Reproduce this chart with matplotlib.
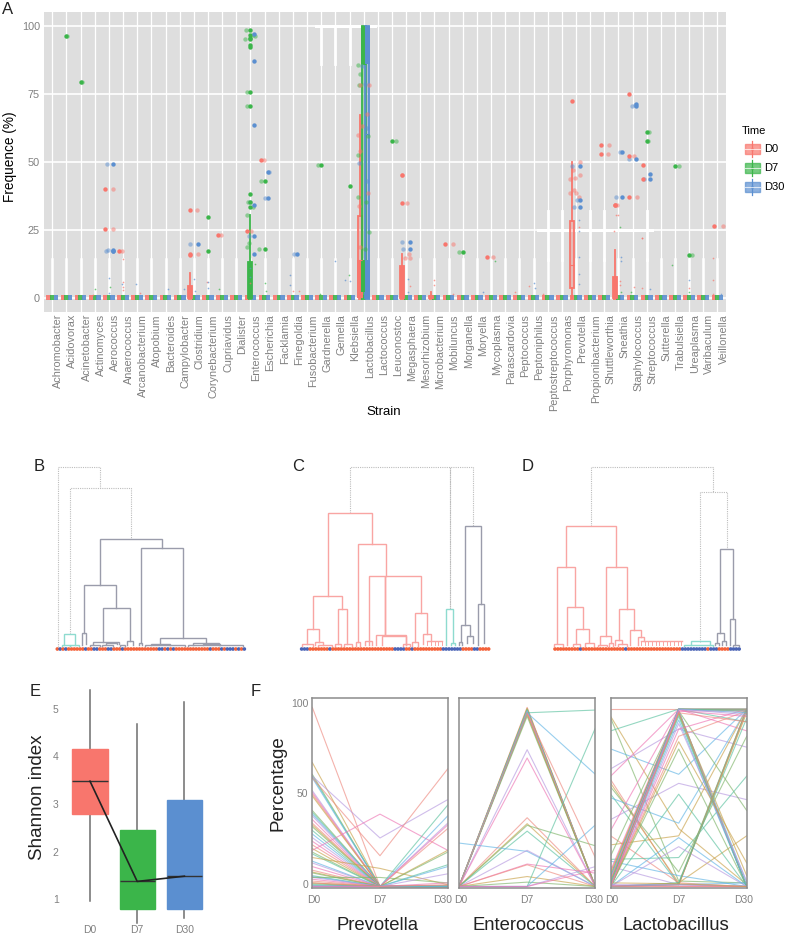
import matplotlib
matplotlib.use('Agg')
import matplotlib.pyplot as plt
from matplotlib.patches import Rectangle

plt.rcParams['font.family'] = ['Liberation Sans', 'DejaVu Sans']

W, H = 787, 943
RED, GREEN, BLUE = '#F8766D', '#3BB54A', '#5B8FD0'
TIME_COLORS = {'D0': RED, 'D7': GREEN, 'D30': BLUE}
TIME_DODGE = {'D0': -0.26, 'D7': 0.0, 'D30': 0.26}
GREY = '#808080'

strains = ['Achromobacter', 'Acidovorax', 'Acinetobacter', 'Actinomyces', 'Aerococcus', 'Anaerococcus',
           'Arcanobacterium', 'Atopobium', 'Bacteroides', 'Campylobacter', 'Clostridium', 'Corynebacterium',
           'Cupriavidus', 'Dialister', 'Enterococcus', 'Escherichia', 'Facklamia', 'Finegoldia', 'Fusobacterium',
           'Gardnerella', 'Gemella', 'Klebsiella', 'Lactobacillus', 'Lactococcus', 'Leuconostoc', 'Megasphaera',
           'Mesorhizobium', 'Microbacterium', 'Mobiluncus', 'Morganella', 'Moryella', 'Mycoplasma', 'Parascardovia',
           'Peptococcus', 'Peptoniphilus', 'Peptostreptococcus', 'Porphyromonas', 'Prevotella', 'Propionibacterium',
           'Shuttleworthia', 'Sneathia', 'Staphylococcus', 'Streptococcus', 'Sutterella', 'Trabulsiella',
           'Ureaplasma', 'Varibaculum', 'Veillonella']

# strain, time: whisker low, q1, median, q3, whisker high (anything not listed sits at zero)
box_stats = {
    ('Clostridium', 'D0'): (0, 0, 0.5, 4.3, 9.2),
    ('Enterococcus', 'D7'): (0, 0, 0.5, 13, 30.5),
    ('Lactobacillus', 'D0'): (0, 2, 14, 30, 67),
    ('Lactobacillus', 'D7'): (0, 3, 86, 100, 100),
    ('Lactobacillus', 'D30'): (0, 0, 60, 100, 100),
    ('Megasphaera', 'D0'): (0, 0, 0.5, 11.5, 16),
    ('Prevotella', 'D0'): (0, 3.5, 12, 28, 50),
    ('Sneathia', 'D0'): (0, 0, 0.5, 7.5, 17.6),
    ('Microbacterium', 'D0'): (0, 0, 0, 0.5, 2),
}

# parts of the tall boxes that read as solid colour: strain, time, from, to
solid_parts = [('Lactobacillus', 'D0', 0, 14), ('Lactobacillus', 'D7', 2, 14), ('Lactobacillus', 'D7', 86, 100),
               ('Lactobacillus', 'D30', 0, 14), ('Lactobacillus', 'D30', 86, 100)]

# outliers drawn at the dodged box position
outliers = [
    ('Acidovorax', 'D7', [96]), ('Acinetobacter', 'D7', [79.2]),
    ('Aerococcus', 'D0', [40, 25.2]), ('Aerococcus', 'D30', [49, 17.3, 17.6, 17]),
    ('Anaerococcus', 'D0', [17.3]), ('Clostridium', 'D0', [32.2, 16, 15.6]), ('Clostridium', 'D30', [19.7]),
    ('Corynebacterium', 'D7', [29.7, 17]), ('Cupriavidus', 'D0', [22.9]),
    ('Enterococcus', 'D0', [24.3]),
    ('Enterococcus', 'D7', [98.5, 96.5, 95.5, 95, 93, 92.3, 75.5, 70.5, 38, 35, 33.3]),
    ('Enterococcus', 'D30', [97, 87, 63.5, 34, 22.5, 16]),
    ('Escherichia', 'D0', [50.6]), ('Escherichia', 'D7', [42.8, 17.9]), ('Escherichia', 'D30', [46.3, 36.6]),
    ('Finegoldia', 'D30', [16.2]), ('Gardnerella', 'D7', [48.7]), ('Klebsiella', 'D7', [41]),
    ('Leuconostoc', 'D7', [57.5]), ('Megasphaera', 'D0', [45, 34.7]), ('Megasphaera', 'D30', [20.4, 17.9]),
    ('Mobiluncus', 'D0', [19.7]), ('Morganella', 'D7', [16.8]), ('Mycoplasma', 'D0', [14.8]),
    ('Prevotella', 'D0', [72.4]), ('Prevotella', 'D30', [48.3, 35.9, 33.2]),
    ('Shuttleworthia', 'D0', [56, 52.9]), ('Sneathia', 'D0', [34, 34.1]), ('Sneathia', 'D30', [53.7, 37]),
    ('Staphylococcus', 'D0', [75, 52, 37]), ('Staphylococcus', 'D30', [70.5, 71, 51]),
    ('Streptococcus', 'D0', [48.9, 43.6]), ('Streptococcus', 'D7', [61, 57.5]), ('Streptococcus', 'D30', [45.3, 43.7]),
    ('Trabulsiella', 'D7', [48.3]), ('Ureaplasma', 'D7', [15.7]), ('Veillonella', 'D0', [26.3]),
]

# jittered samples: strain, time, value, jitter (fraction of a category)
jitter_points = [
    ('Acidovorax', 'D7', 96, 0.05), ('Acinetobacter', 'D7', 79.2, 0.1),
    ('Aerococcus', 'D0', 40, 0.31), ('Aerococcus', 'D0', 25.2, 0.31), ('Aerococcus', 'D30', 49, -0.12),
    ('Aerococcus', 'D30', 17.3, -0.21), ('Aerococcus', 'D30', 17.5, -0.05),
    ('Anaerococcus', 'D0', 17.3, -0.09), ('Clostridium', 'D0', 32.2, 0.2), ('Clostridium', 'D0', 16, 0.3),
    ('Clostridium', 'D30', 19.7, -0.3), ('Cupriavidus', 'D0', 22.9, -0.1),
    ('Enterococcus', 'D7', 98.5, -0.33), ('Enterococcus', 'D7', 95, -0.35), ('Enterococcus', 'D7', 96, 0.35),
    ('Enterococcus', 'D7', 75.5, -0.24), ('Enterococcus', 'D7', 70.5, -0.24), ('Enterococcus', 'D7', 35, -0.14),
    ('Enterococcus', 'D7', 30.5, -0.26), ('Enterococcus', 'D7', 18.5, -0.26), ('Enterococcus', 'D7', 20, -0.07),
    ('Enterococcus', 'D7', 33.3, 0.21), ('Enterococcus', 'D7', 96.6, 0.2),
    ('Enterococcus', 'D30', 22.5, -0.12), ('Enterococcus', 'D30', 35, -0.02), ('Enterococcus', 'D0', 24.3, 0.02),
    ('Escherichia', 'D0', 50.6, -0.05), ('Escherichia', 'D7', 42.8, -0.24), ('Escherichia', 'D7', 17.9, -0.4),
    ('Escherichia', 'D30', 36.6, 0.02), ('Escherichia', 'D30', 46.3, 0.33),
    ('Finegoldia', 'D30', 16.2, 0.07), ('Gardnerella', 'D7', 48.7, -0.21),
    ('Lactobacillus', 'D7', 85.5, -0.38), ('Lactobacillus', 'D7', 82.3, -0.26), ('Lactobacillus', 'D7', 78, -0.3),
    ('Lactobacillus', 'D7', 52.5, -0.4), ('Lactobacillus', 'D7', 37, -0.4), ('Lactobacillus', 'D7', 35, 0.16),
    ('Lactobacillus', 'D7', 24, 0.35), ('Lactobacillus', 'D7', 18, 0.07), ('Lactobacillus', 'D7', 59.5, 0.3),
    ('Lactobacillus', 'D0', 78.2, -0.26), ('Lactobacillus', 'D0', 78, 0.4), ('Lactobacillus', 'D0', 59.8, -0.4),
    ('Lactobacillus', 'D0', 53.8, -0.26), ('Lactobacillus', 'D0', 33.5, -0.35), ('Lactobacillus', 'D0', 38.5, 0.28),
    ('Lactobacillus', 'D0', 18.5, -0.26), ('Lactobacillus', 'D0', 67.5, 0.26), ('Lactobacillus', 'D0', 63, -0.1),
    ('Lactobacillus', 'D30', 85, -0.1), ('Lactobacillus', 'D30', 49.5, -0.35), ('Lactobacillus', 'D30', 62.5, 0.24),
    ('Lactobacillus', 'D30', 42.8, 0.24), ('Lactobacillus', 'D30', 78.5, 0.1),
    ('Leuconostoc', 'D7', 57.5, 0.28), ('Megasphaera', 'D0', 45, -0.3), ('Megasphaera', 'D0', 34.7, 0.07),
    ('Megasphaera', 'D30', 20.4, -0.26), ('Megasphaera', 'D30', 17.9, -0.24), ('Megasphaera', 'D0', 14.7, -0.07),
    ('Megasphaera', 'D0', 16, 0.2), ('Megasphaera', 'D0', 14.5, 0.3),
    ('Mobiluncus', 'D0', 19.7, 0.28), ('Morganella', 'D7', 16.8, -0.24), ('Mycoplasma', 'D0', 14.8, 0.12),
    ('Prevotella', 'D0', 50, 0.26), ('Prevotella', 'D0', 45, 0.28), ('Prevotella', 'D0', 43.5, -0.4),
    ('Prevotella', 'D0', 38.5, -0.4), ('Prevotella', 'D0', 39.6, -0.14), ('Prevotella', 'D0', 38.5, 0),
    ('Prevotella', 'D0', 37, 0.24), ('Prevotella', 'D0', 47, -0.19), ('Prevotella', 'D0', 44, -0.05),
    ('Prevotella', 'D30', 48.3, -0.26), ('Prevotella', 'D30', 33.2, -0.12), ('Prevotella', 'D30', 35.9, 0.1),
    ('Shuttleworthia', 'D0', 56, 0.31), ('Shuttleworthia', 'D0', 52.9, 0.24), ('Sneathia', 'D0', 34, -0.07),
    ('Sneathia', 'D30', 53.7, 0.12), ('Sneathia', 'D30', 37, -0.14), ('Staphylococcus', 'D0', 52, 0.12),
    ('Staphylococcus', 'D0', 37, 0.31), ('Staphylococcus', 'D30', 70.5, -0.07), ('Staphylococcus', 'D30', 70.8, 0.16),
    ('Staphylococcus', 'D30', 51, -0.26), ('Streptococcus', 'D7', 61, 0.19), ('Streptococcus', 'D7', 57.5, 0.12),
    ('Streptococcus', 'D30', 43.7, -0.19), ('Trabulsiella', 'D7', 48.3, 0.26), ('Ureaplasma', 'D7', 15.7, 0.21),
    ('Veillonella', 'D0', 26.3, 0.38),
]

# small specks near the bottom: strain, time, value, jitter
specks = [
    ('Actinomyces', 'D7', 3, 0.0), ('Actinomyces', 'D0', 0.8, -0.1), ('Aerococcus', 'D30', 7.3, 0.02),
    ('Aerococcus', 'D7', 4, 0.05), ('Aerococcus', 'D30', 1.6, 0.0), ('Anaerococcus', 'D0', 14.3, 0.0),
    ('Anaerococcus', 'D0', 5.6, 0.0), ('Anaerococcus', 'D0', 4, 0.0), ('Anaerococcus', 'D0', 2.7, 0.0),
    ('Anaerococcus', 'D30', 5, -0.1), ('Arcanobacterium', 'D30', 5, -0.1), ('Arcanobacterium', 'D0', 1.8, 0.2),
    ('Bacteroides', 'D30', 3, 0.2), ('Campylobacter', 'D30', 3, 0.3), ('Clostridium', 'D30', 7, 0.0),
    ('Clostridium', 'D30', 2.5, 0.1), ('Corynebacterium', 'D0', 5.6, -0.1), ('Corynebacterium', 'D30', 5.6, 0.0),
    ('Corynebacterium', 'D30', 3.5, 0.0), ('Cupriavidus', 'D7', 3, -0.2), ('Enterococcus', 'D30', 11, 0.0),
    ('Enterococcus', 'D30', 7.5, 0.0), ('Enterococcus', 'D7', 12.5, 0.35), ('Enterococcus', 'D0', 5.2, -0.05),
    ('Escherichia', 'D7', 5.3, 0.0), ('Escherichia', 'D7', 2.5, 0.1), ('Finegoldia', 'D30', 8.4, -0.2),
    ('Finegoldia', 'D30', 4.6, -0.2), ('Finegoldia', 'D0', 2.5, 0.0), ('Finegoldia', 'D0', 2.5, 0.4),
    ('Gardnerella', 'D7', 1.4, -0.1), ('Gemella', 'D30', 13.4, 0.0), ('Klebsiella', 'D7', 8.3, -0.05),
    ('Klebsiella', 'D30', 6.3, -0.3), ('Klebsiella', 'D30', 6.2, 0.0), ('Megasphaera', 'D30', 7, 0.1),
    ('Megasphaera', 'D0', 4.2, 0.3), ('Megasphaera', 'D30', 2, 0.1), ('Microbacterium', 'D0', 6.3, 0.0),
    ('Microbacterium', 'D0', 4.7, 0.0), ('Mobiluncus', 'D0', 1.5, 0.3), ('Mycoplasma', 'D7', 13.5, 0.3),
    ('Moryella', 'D30', 2, 0.4), ('Peptococcus', 'D0', 2, -0.3), ('Peptoniphilus', 'D30', 5.3, 0.0),
    ('Peptoniphilus', 'D0', 4.3, -0.3), ('Peptoniphilus', 'D30', 3.7, 0.1), ('Peptostreptococcus', 'D0', 1.5, -0.3),
    ('Prevotella', 'D30', 28.5, 0.2), ('Prevotella', 'D30', 24.5, 0.2), ('Prevotella', 'D30', 14.8, 0.2),
    ('Prevotella', 'D30', 8.5, 0.2), ('Prevotella', 'D30', 5, 0.2), ('Prevotella', 'D0', 26, 0.2),
    ('Sneathia', 'D0', 30.5, -0.2), ('Sneathia', 'D0', 30.5, 0.0), ('Sneathia', 'D7', 26, 0.1),
    ('Sneathia', 'D0', 24.5, -0.3), ('Sneathia', 'D0', 6, 0.1), ('Sneathia', 'D0', 4.5, 0.1),
    ('Sneathia', 'D30', 15, 0.2), ('Sneathia', 'D30', 13.5, 0.2), ('Sneathia', 'D7', 2, 0.15),
    ('Staphylococcus', 'D0', 22, 0.7), ('Staphylococcus', 'D7', 2, -0.1), ('Staphylococcus', 'D0', 3.8, 0.1),
    ('Streptococcus', 'D0', 22, -0.3), ('Streptococcus', 'D0', 3.7, -0.3), ('Streptococcus', 'D30', 3.2, 0.2),
    ('Trabulsiella', 'D7', 11.8, -0.2), ('Ureaplasma', 'D30', 6.5, 0.0), ('Ureaplasma', 'D0', 3.7, 0.0),
    ('Ureaplasma', 'D7', 2, 0.0), ('Varibaculum', 'D0', 14.5, 0.7), ('Varibaculum', 'D0', 6.4, 0.7),
    ('Varibaculum', 'D0', 1.5, 0.7), ('Veillonella', 'D30', 1.5, 0.25),
]

# dendrogram brackets in tree units: left x, right x, top, base left, base right
tree_bc_dotted = [(115, 241, 50, 590, 115), (149, 334, 115, 552, 266),
                  (990, 1360, 50, 190, 228), (1290, 1290, 50, 478, 478)]
tree_bc_teal = [(131, 166, 552, 585, 585), (125, 150, 585, 587, 587), (150, 176, 585, 587, 587),
                (1279, 1299, 478, 585, 578), (1292, 1305, 578, 585, 585)]
tree_bc_pink = [
    (923, 1056, 190, 438, 283), (880, 967, 438, 538, 478), (862, 898, 538, 583, 575), (953, 980, 478, 581, 581),
    (1014, 1098, 283, 577, 379), (1046, 1204, 379, 585, 489), (1095, 1095, 379, 556, 556),
    (1068, 1158, 556, 585, 585), (1085, 1158, 559, 585, 585), (1186, 1222, 489, 575, 551),
    (1210, 1232, 551, 583, 574), (845, 878, 583, 587, 587), (885, 910, 576, 585, 585), (895, 935, 584, 587, 587),
    (945, 962, 581, 587, 587), (972, 996, 581, 587, 587), (1007, 1020, 577, 587, 587), (1036, 1056, 572, 585, 585),
    (1175, 1195, 575, 587, 587), (1150, 1170, 582, 587, 587),
]
tree_c_comb = [1222, 1267]
tree_bc_grey = [
    (241, 426, 266, 404, 294), (191, 289, 404, 548, 473), (248, 331, 473, 575, 574), (362, 490, 294, 580, 564),
    (185, 198, 548, 585, 582), (421, 558, 564, 580, 580), (218, 297, 575, 582, 582), (258, 290, 578, 582, 582),
    (322, 338, 574, 585, 585), (358, 367, 580, 586, 586), (392, 450, 582, 586, 586), (520, 597, 580, 586, 586),
    (210, 240, 585, 587, 587), (300, 315, 585, 587, 587), (245, 280, 585, 587, 587), (375, 495, 585, 587, 587),
    (505, 668, 585, 587, 587), (550, 600, 582, 586, 586),
    (1335, 1384, 228, 525, 461), (1322, 1350, 525, 575, 559), (1340, 1358, 559, 580, 580),
    (1375, 1392, 461, 585, 580), (1318, 1327, 575, 585, 585),
]
tree_d_dotted = [(574, 940, 50, 229, 127), (901, 980, 127, 575, 296)]
tree_d_pink = [
    (498, 649, 229, 350, 350), (471, 526, 350, 580, 470), (502, 549, 470, 585, 538), (528, 568, 538, 582, 577),
    (617, 680, 350, 559, 478), (601, 632, 559, 585, 580), (656, 703, 478, 571, 541), (645, 667, 571, 585, 583),
    (691, 723, 541, 585, 562), (714, 733, 562, 585, 573), (463, 490, 582, 587, 587), (518, 540, 583, 587, 587),
    (555, 582, 578, 587, 587), (595, 620, 585, 587, 587), (628, 638, 580, 587, 587), (655, 680, 583, 587, 587),
]
tree_d_comb = [723, 845]
tree_d_teal = [(874, 929, 574, 585, 585), (852, 940, 584, 587, 587)]
tree_d_grey = [(961, 999, 296, 548, 508), (952, 971, 548, 578, 572), (946, 956, 578, 586, 586),
               (965, 978, 572, 586, 586), (991, 1006, 508, 585, 584), (999, 1018, 585, 587, 587)]

# leaves that are blue, counted from the left of each tree
leaves_b = [1, 3, 10, 13, 14, 18, 19, 23, 36, 37, 39, 41, 54, 58, 60, 61, 62, 64, 66]
leaves_c = [0, 1, 2, 10, 33, 34, 35, 36, 39, 50, 51, 52, 53, 54, 55, 56, 61, 62]
leaves_d = [9, 25, 45, 46, 47, 48, 49, 50, 51, 52, 53, 55, 56, 57, 62, 63, 64, 65]

# Shannon index: whisker low, q1, median, q3, whisker high
shannon_times = ['D0', 'D7', 'D30']
shannon_stats = [(0.96, 2.8, 3.48, 4.16, 5.41), (0.49, 0.79, 1.37, 2.45, 4.69), (0.59, 0.79, 1.48, 3.08, 5.15)]

# per-sample percentages at D0, D7, D30
prevotella_lines = [(v, 0, 0) for v in [99, 68.5, 62, 61, 60, 53, 52, 51, 50, 42, 41, 40, 39, 37, 35, 34, 33, 31, 29, 27,
                                         25, 23, 21, 19, 18, 14, 13, 11, 9, 8, 7.5, 6, 5.5, 5, 4, 3, 2, 1.5, 1, 0.5]]
prevotella_lines += [(61, 26.8, 48), (20, 40, 20), (60, 17, 65), (16, 10, 1), (5, 5, 2), (0, 0, 45), (0, 0, 39), (0, 0, 35),
                     (0, 0, 34), (0, 0, 32), (0, 0, 20), (0, 0, 19), (0, 0, 12), (0, 0, 11), (0, 0, 7), (0, 0, 2), (2, 0, 1)]
enterococcus_lines = [(0, v, 0) for v in [99, 98.5, 98, 97.5, 97, 96.5, 96, 95.5, 95, 94]]
enterococcus_lines += [(0, 96, 97.5), (0, 96, 62), (0, 75.6, 0), (0, 71, 0), (0, 38, 0), (0, 34.7, 0), (0, 33.8, 22.5),
                       (0, 30.6, 0), (24, 19.4, 0), (0, 20, 0), (0, 12.4, 7.4), (0, 12, 0), (0, 5.5, 0), (0, 2.4, 0),
                       (0, 0, 87.5), (0, 0, 34), (0, 0, 11), (0, 0, 9), (0, 96, 16)]
lactobacillus_lines = [
    (98, 98, 98), (94, 32, 1), (93, 3, 2), (86, 98, 91), (76, 62, 98), (65, 87, 77), (61, 98, 98), (59, 1, 0),
    (57, 2, 28), (55, 8, 83), (51, 1, 98), (49, 35, 98), (37, 57, 48), (31, 98, 86), (28, 2, 0), (23, 28, 98),
    (17, 97, 42), (15, 16, 61), (14, 6, 0), (11, 1, 0), (9, 98, 98), (8, 97, 0), (7, 98, 97), (6, 97, 0), (5.5, 98, 98),
    (5, 97, 2), (4.5, 97, 0), (4, 97, 97), (3.5, 96, 0), (3, 96, 6), (2.5, 95, 0), (2, 94, 0), (1.5, 92, 0),
    (0, 90, 3), (0, 87, 98), (0, 83, 97), (0, 80, 13), (0, 76, 0), (0, 51, 0), (0, 27, 0), (0, 22, 0), (0, 1, 98),
    (0, 1, 97), (0, 1, 96), (0, 2, 98), (0, 2, 93), (0, 1, 2), (1, 1, 0), (0.5, 0, 0), (0, 0, 0), (2, 1.5, 0),
    (1, 98, 98), (0.5, 98, 97), (0, 98, 96), (0, 98, 95), (0, 97, 94), (0, 96, 91),
]
line_palette = ['#EE8A80', '#C9A24A', '#7FB56A', '#5CC2A0', '#62B5E5', '#B79AE0', '#EE77B5']


def px_axes(fig, left, top, right, bottom):
    return fig.add_axes([left / W, 1 - bottom / H, (right - left) / W, (bottom - top) / H])


def px_text(fig, x, y, s, **kw):
    return fig.text(x / W, 1 - y / H, s, **kw)


def draw_brackets(ax, brackets, color, **kw):
    for xl, xr, top, bl, br in brackets:
        ax.plot([xl, xl, xr, xr], [bl, top, top, br], color=color, solid_joinstyle='miter', **kw)


def draw_comb(ax, span, top, color, step=11):
    ax.plot(span, [top, top], color=color, lw=1)
    x = span[0]
    while x <= span[1]:
        ax.plot([x, x], [top, 585], color=color, lw=0.7)
        x += step


def draw_leaves(ax, start, n, blue):
    xs = [start + i * 8.5 for i in range(n)]
    cols = ['#4A63B5' if i in blue else '#F4623A' for i in range(n)]
    ax.scatter(xs, [597] * n, c=cols, s=7, marker='o', linewidths=0, clip_on=False)


fig = plt.figure(figsize=(W / 100, H / 100), dpi=100)

# --- panel A
ax = px_axes(fig, 44, 12, 726, 312)
ax.set_facecolor('#DEDEDE')
step_px = 14.153
ax.set_xlim(-8.3 / step_px, (726 - 52.3) / step_px)
ax.set_ylim(-5.3, 105)
for s in ax.spines.values():
    s.set_visible(False)
for v in [0, 25, 50, 75, 100]:
    ax.axhline(v, color='white', lw=1.2, zorder=1)
for i in range(len(strains)):
    ax.axvline(i, color='white', lw=0.9, zorder=1)
    ax.plot([i, i], [0, 14.3], color='white', lw=1.8, zorder=1)
for name in ['Gardnerella', 'Gemella', 'Klebsiella']:
    i = strains.index(name)
    ax.plot([i, i], [86, 100], color='white', lw=2, zorder=1)
for name in ['Peptostreptococcus', 'Porphyromonas', 'Propionibacterium', 'Shuttleworthia', 'Streptococcus']:
    i = strains.index(name)
    ax.plot([i, i], [14, 32], color='white', lw=2, zorder=1)
ax.plot([18.65, 22.8], [100, 100], color='white', lw=2.2, zorder=1)
ax.plot([34.3, 42.4], [25, 25], color='white', lw=2.2, zorder=1)

for i, name in enumerate(strains):
    for t in ['D0', 'D7', 'D30']:
        col = TIME_COLORS[t]
        x = i + TIME_DODGE[t]
        # every box collapses to a flat band around zero
        ax.bar(x, 1.8, bottom=-0.9, width=0.31, color=col, linewidth=0, alpha=0.9, zorder=3)
        if (name, t) not in box_stats:
            continue
        lo, q1, med, q3, hi = box_stats[(name, t)]
        hollow = q3 > 14
        stats = [dict(whislo=lo, q1=q1, med=med, q3=q3, whishi=hi, fliers=[])]
        face = matplotlib.colors.to_rgba(col, 0.35 if hollow else 1.0)
        ax.bxp(stats, positions=[x], widths=0.28, patch_artist=True, showcaps=False, showfliers=False,
               manage_ticks=False, zorder=4,
               boxprops=dict(facecolor=face, edgecolor=col, linewidth=1.3),
               medianprops=dict(color=col, linewidth=0.8),
               whiskerprops=dict(color=col, linewidth=1.3))
for name, t, y0, y1 in solid_parts:
    ax.bar(strains.index(name) + TIME_DODGE[t], y1 - y0, bottom=y0, width=0.36, color=TIME_COLORS[t], linewidth=0, zorder=4)

for name, t, values in outliers:
    x = strains.index(name) + TIME_DODGE[t]
    ax.scatter([x] * len(values), values, s=10, color=TIME_COLORS[t], linewidths=0, zorder=6)
for name, t, v, dx in jitter_points:
    ax.scatter(strains.index(name) + dx, v, s=10, color=TIME_COLORS[t], alpha=0.5, linewidths=0, zorder=5)
for name, t, v, dx in specks:
    ax.scatter(strains.index(name) + dx, v, s=1.5, color=TIME_COLORS[t], alpha=0.7, linewidths=0, zorder=5)

# labels sit a little right of their category in the reference
ax.set_xticks([i + 6 / step_px for i in range(len(strains))])
ax.set_xticklabels(strains, rotation=90, color=GREY, fontsize=7.8, ha='center', va='top')
ax.set_yticks([0, 25, 50, 75, 100])
ax.tick_params(axis='both', length=0, labelcolor=GREY)
ax.tick_params(axis='y', labelsize=7.8, pad=3)
ax.tick_params(axis='x', pad=1.5)
px_text(fig, 384, 412, 'Strain', fontsize=9.5, ha='center', va='center')
px_text(fig, 10, 157, 'Frequence (%)', fontsize=9.8, rotation=90, ha='center', va='center')
px_text(fig, 8, 9, 'A', fontsize=12, ha='center', va='center', color='#222222')

# legend
px_text(fig, 742, 131, 'Time', fontsize=8, ha='left', va='center')
leg = px_axes(fig, 740, 139, 787, 198)
leg.set_xlim(740, 787)
leg.set_ylim(198, 139)
leg.axis('off')
for key_y, t in zip([149, 168, 187], ['D0', 'D7', 'D30']):
    col = TIME_COLORS[t]
    leg.plot([752, 752], [key_y - 8, key_y + 8], color=col, lw=0.9)
    leg.add_patch(Rectangle((744.5, key_y - 5), 15, 10, facecolor=col, edgecolor=col, alpha=0.7, lw=1))
    leg.plot([744.5, 759.5], [key_y, key_y], color='white', lw=0.8, alpha=0.7)
    leg.scatter([752], [key_y], s=6, color=col, linewidths=0, alpha=0.6)
    leg.text(764.5, key_y, t, fontsize=8, va='center', ha='left')

# --- panels B, C
tree = px_axes(fig, 20, 40 / 3 + 450, 20 + 1410 / 3, 450 + 640 / 3)
tree.set_xlim(0, 1410)
tree.set_ylim(640, 40)
tree.axis('off')
tree.patch.set_alpha(0)
draw_brackets(tree, tree_bc_dotted, '#BDBDBD', lw=0.8, ls=(0, (1, 1)))
draw_brackets(tree, tree_bc_teal, '#8EDBCF', lw=1)
draw_brackets(tree, tree_bc_pink, '#F9A5A3', lw=1)
draw_brackets(tree, tree_bc_grey, '#9A9CAB', lw=1)
draw_comb(tree, tree_c_comb, 574, '#F9A5A3')
draw_leaves(tree, 112, 67, leaves_b)
draw_leaves(tree, 845, 67, leaves_c)

# --- panel D
tree_d = px_axes(fig, 400 + 440 / 3, 40 / 3 + 450, 400 + 1040 / 3, 450 + 640 / 3)
tree_d.set_xlim(440, 1040)
tree_d.set_ylim(640, 40)
tree_d.axis('off')
tree_d.patch.set_alpha(0)
draw_brackets(tree_d, tree_d_dotted, '#BDBDBD', lw=0.8, ls=(0, (1, 1)))
draw_brackets(tree_d, tree_d_pink, '#F9A5A3', lw=1)
draw_brackets(tree_d, tree_d_teal, '#8EDBCF', lw=1)
draw_brackets(tree_d, tree_d_grey, '#9A9CAB', lw=1)
draw_comb(tree_d, tree_d_comb, 573, '#F9A5A3')
draw_leaves(tree_d, 465, 66, leaves_d)

for x, s in [(39, 'B'), (298, 'C'), (528, 'D')]:
    px_text(fig, x, 467, s, fontsize=12, ha='center', va='center', color='#222222')

# --- panel E
ax_e = px_axes(fig, 60, 680, 215, 925)
ax_e.set_xlim((60 - 90) / 47.2, (215 - 90) / 47.2)
ax_e.set_ylim(1 - 26 / 47.5, 1 + 219 / 47.5)
for s in ax_e.spines.values():
    s.set_visible(False)
stats_e = [dict(whislo=a, q1=b, med=c, q3=d, whishi=e, fliers=[]) for a, b, c, d, e in shannon_stats]
parts = ax_e.bxp(stats_e, positions=[0, 1, 2], widths=0.75, patch_artist=True, showcaps=False, showfliers=False,
                 manage_ticks=False, medianprops=dict(color='#333333', linewidth=1),
                 whiskerprops=dict(color='#6E6E6E', linewidth=1.1))
for box, col in zip(parts['boxes'], [RED, GREEN, BLUE]):
    box.set_facecolor(col)
    box.set_edgecolor(col)
    box.set_zorder(3)
for med in parts['medians']:
    med.set_zorder(4)
ax_e.plot([0, 1, 2], [s[2] for s in shannon_stats], color='#222222', lw=1.2, zorder=5)
ax_e.set_xticks([0, 1, 2])
ax_e.set_xticklabels(shannon_times)
ax_e.set_yticks([1, 2, 3, 4, 5])
ax_e.tick_params(length=0, labelcolor=GREY, labelsize=7.5, pad=1)
ax_e.tick_params(axis='x', pad=0)
px_text(fig, 38, 797, 'Shannon index', fontsize=13.5, rotation=90, ha='center', va='center', color='#222222')
px_text(fig, 35, 692, 'E', fontsize=12, ha='center', va='center', color='#222222')
px_text(fig, 256, 692, 'F', fontsize=12, ha='center', va='center', color='#222222')

# --- panel F
panels = [('Prevotella', prevotella_lines, 312.3, 447.7, 378, 1.93), ('Enterococcus', enterococcus_lines, 459, 595.3, 528.5, 1.97),
          ('Lactobacillus', lactobacillus_lines, 610.7, 746.7, 676, 1.96)]
for k, (title, rows, left, right, title_x, d30_tick) in enumerate(panels):
    a = px_axes(fig, left, 698.3, right, 888.3)
    for j, row in enumerate(rows):
        a.plot([0, 1, 2], row, color=line_palette[j % len(line_palette)], lw=0.8, alpha=0.65)
    a.set_xlim(0, 2)
    a.set_ylim(-1, 104)
    for s in a.spines.values():
        s.set_color('#8C8C8C')
        s.set_linewidth(1.1)
    a.set_xticks([0.02, 1, d30_tick])
    a.set_xticklabels(shannon_times)
    a.tick_params(length=0, labelcolor=GREY, labelsize=7.5, pad=5)
    if k == 0:
        a.set_yticks([1.5, 51.4, 101.5])
        a.set_yticklabels(['0', '50', '100'])
        a.tick_params(axis='y', pad=3)
    else:
        a.set_yticks([])
    px_text(fig, title_x, 926, title, fontsize=13.3, ha='center', va='center', color='#222222')
px_text(fig, 278, 783, 'Percentage', fontsize=13.5, rotation=90, ha='center', va='center', color='#222222')

fig.savefig('out.png', dpi=100)
